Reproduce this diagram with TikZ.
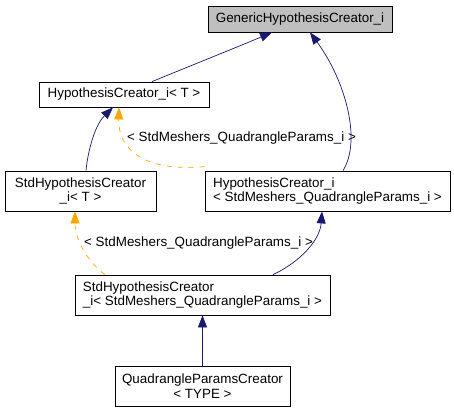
\documentclass[tikz,border=0pt]{standalone}
\usepackage{fontspec}
\setmainfont{Liberation Sans}
\usetikzlibrary{arrows.meta}
\definecolor{navyline}{HTML}{191970}
\definecolor{orangeline}{HTML}{FFA500}
\begin{document}
\begin{tikzpicture}[x=1bp, y=-1bp]
            \tikzset{cls/.style = {shape=rectangle,draw,line width=0.8bp,inner sep=0pt,font=\fontsize{13.4bp}{14.5bp}\selectfont}}
            \tikzset{inherit/.style = {navyline,line width=0.7bp,-{Triangle[length=12bp,width=9bp]}}}
            \tikzset{templ/.style = {orangeline,line width=0.7bp,dash pattern=on 5bp off 6bp,-{Triangle[length=12bp,width=9bp]}}}
            \tikzset{lbl/.style = {anchor=west,inner sep=0pt,font=\fontsize{13.4bp}{14.5bp}\selectfont}}
            \useasboundingbox (0,0) rectangle (454,412);
            \node[cls, fill={rgb,255:red,191;green,191;blue,191}, minimum width=184bp, minimum height=26bp] (gen) at (300,19) {GenericHypothesisCreator\_i};
            \node[cls, minimum width=170bp, minimum height=25bp] (hct) at (124,94.5) {HypothesisCreator\_i< T >};
            \node[cls, align=center, minimum width=151bp, minimum height=40bp] (stdt) at (80.5,191) {StdHypothesisCreator\\\_i< T >};
            \node[cls, align=left, minimum width=245bp, minimum height=40bp] (hcq) at (327.5,191) {HypothesisCreator\_i\\< StdMeshers\_QuadrangleParams\_i >};
            \node[cls, align=left, minimum width=255bp, minimum height=40bp] (stdq) at (202.5,295) {StdHypothesisCreator\\\_i< StdMeshers\_QuadrangleParams\_i >};
            \node[cls, align=center, minimum width=175bp, minimum height=40bp] (qpc) at (202.5,386) {QuadrangleParamsCreator\\< TYPE >};
            \node[lbl] (lbl1) at (127,138) {< StdMeshers\_QuadrangleParams\_i >};
            \node[lbl] (lbl2) at (84,243) {< StdMeshers\_QuadrangleParams\_i >};
            \draw[inherit] ([xshift=28bp]hct.north) .. controls (185,68) and (235,48) .. ([xshift=-28bp]gen.south);
            \draw[inherit] ([xshift=15.5bp]hcq.north) .. controls (362,140) and (345,80) .. ([xshift=10bp]gen.south);
            \draw[inherit] ([xshift=5.5bp]stdt.north) .. controls (88,150) and (95,125) .. ([xshift=-11bp]hct.south);
            \draw[templ] ([yshift=4bp]hcq.north west) .. controls (145,172) and (118,150) .. ([xshift=-5bp]hct.south);
            \draw[inherit] ([xshift=70.5bp]stdq.north) .. controls (300,262) and (320,240) .. ([xshift=-5.5bp]hcq.south);
            \draw[templ] ([xshift=-97.5bp]stdq.north) .. controls (88,262) and (75,240) .. ([xshift=-5.5bp]stdt.south);
            \draw[inherit] (qpc.north) -- (stdq.south);
          \end{tikzpicture}
\end{document}
